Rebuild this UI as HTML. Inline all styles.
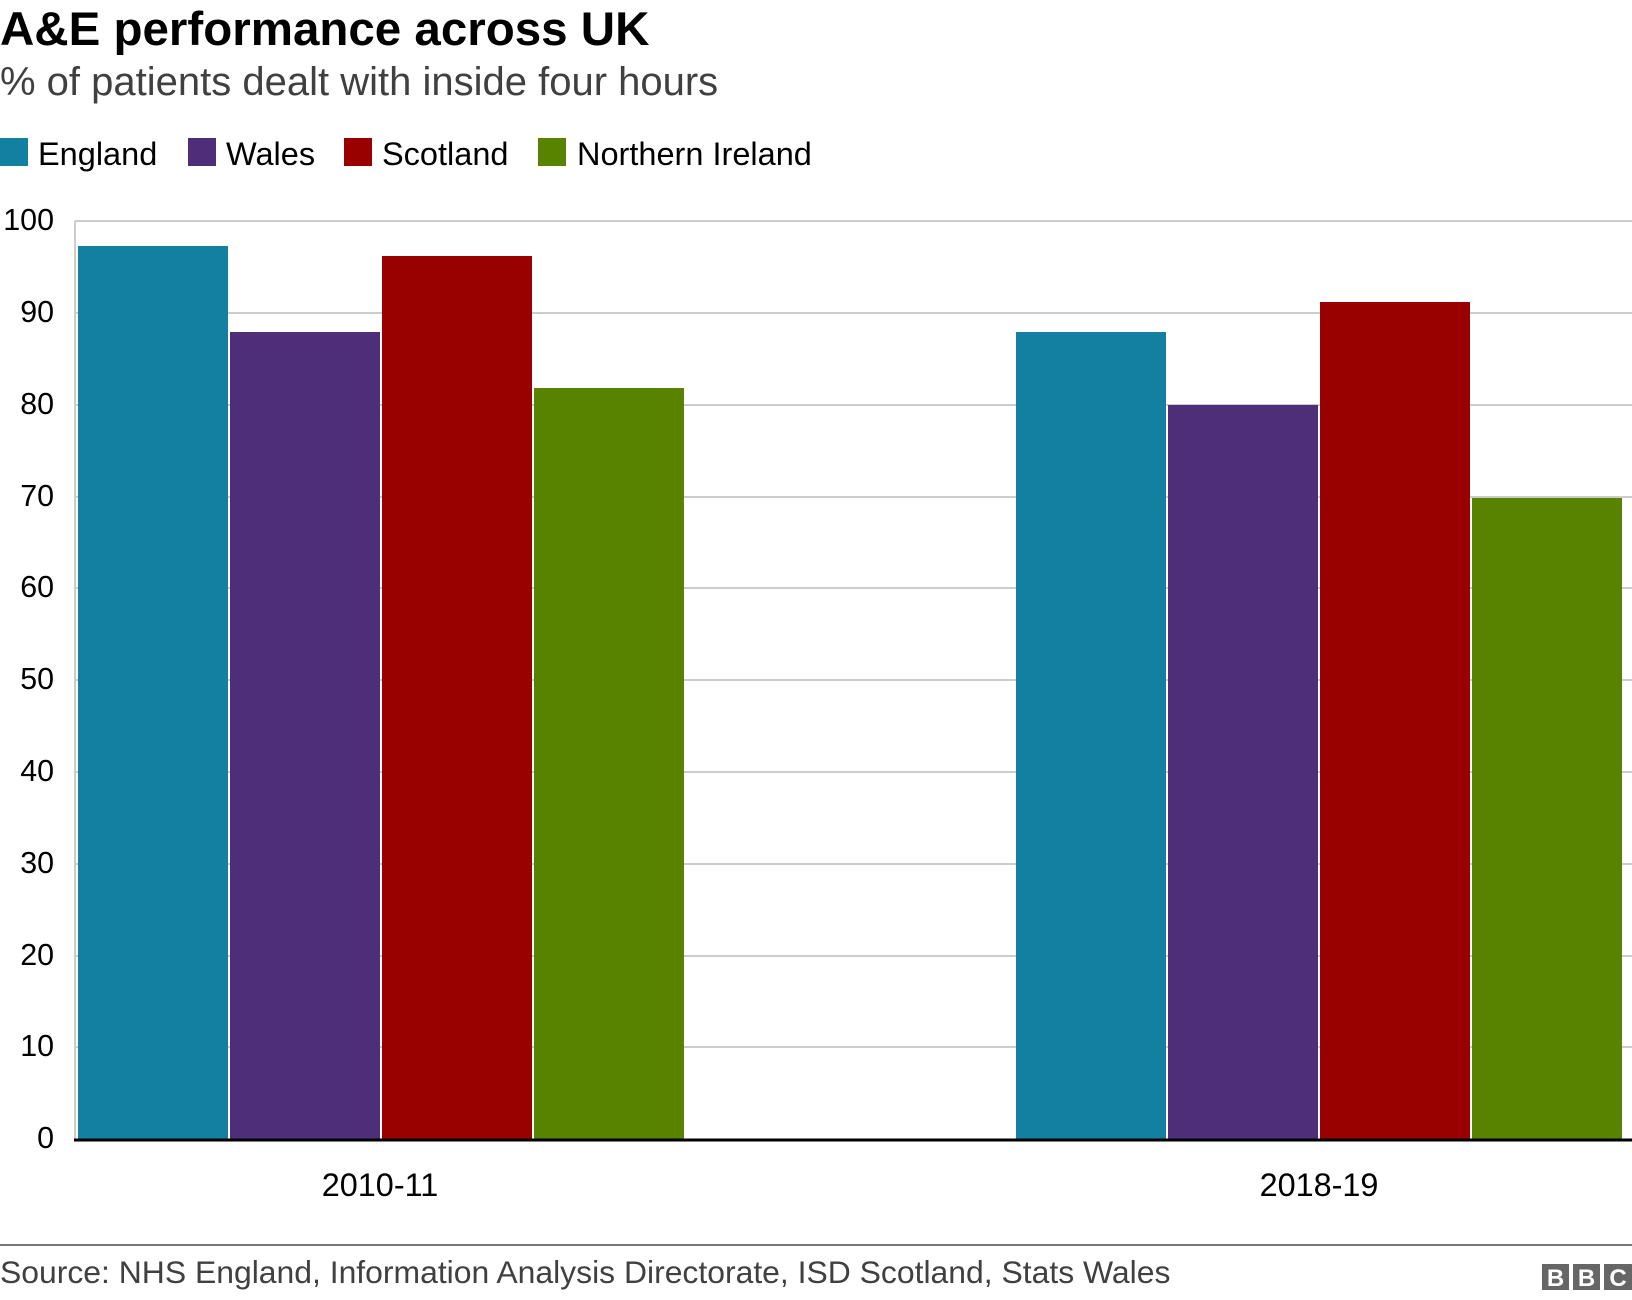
<!DOCTYPE html>
<html><head><meta charset="utf-8"><style>
html,body{margin:0;padding:0;background:#fff;}
svg{display:block;font-family:"Liberation Sans",Arial,sans-serif;}
</style></head><body>
<svg width="1632" height="1300" viewBox="0 0 1632 1300">
<text x="0" y="45" font-size="47.5" font-weight="bold" fill="#000">A&amp;E performance across UK</text>
<text x="0" y="95" font-size="40" fill="#404040">% of patients dealt with inside four hours</text>
<g font-size="32.5" fill="#000">
<rect x="0" y="138" width="28" height="28" fill="#1380a1"/><text x="38" y="165">England</text>
<rect x="188" y="138" width="28" height="28" fill="#4e2d79"/><text x="226" y="165">Wales</text>
<rect x="344" y="138" width="28" height="28" fill="#990000"/><text x="382" y="165">Scotland</text>
<rect x="538" y="138" width="28" height="28" fill="#588300"/><text x="577" y="165">Northern Ireland</text>
</g>
<g stroke="#cccccc" stroke-width="2">
<line x1="75" x2="1632" y1="221" y2="221"/>
<line x1="75" x2="1632" y1="313" y2="313"/>
<line x1="75" x2="1632" y1="405" y2="405"/>
<line x1="75" x2="1632" y1="497" y2="497"/>
<line x1="75" x2="1632" y1="588" y2="588"/>
<line x1="75" x2="1632" y1="680" y2="680"/>
<line x1="75" x2="1632" y1="772" y2="772"/>
<line x1="75" x2="1632" y1="864" y2="864"/>
<line x1="75" x2="1632" y1="956" y2="956"/>
<line x1="75" x2="1632" y1="1047" y2="1047"/>
<line x1="75" x2="75" y1="221" y2="1139"/>
</g>
<g font-size="30.4" fill="#000" text-anchor="end">
<text x="54" y="230">100</text><text x="54" y="322">90</text><text x="54" y="414">80</text>
<text x="54" y="506">70</text><text x="54" y="597">60</text><text x="54" y="689">50</text>
<text x="54" y="781">40</text><text x="54" y="873">30</text><text x="54" y="965">20</text>
<text x="54" y="1056">10</text><text x="54" y="1148">0</text>
</g>
<rect x="78" y="246" width="150" height="893" fill="#1380a1"/>
<rect x="230" y="332" width="150" height="807" fill="#4e2d79"/>
<rect x="382" y="256" width="150" height="883" fill="#990000"/>
<rect x="534" y="388" width="150" height="751" fill="#588300"/>
<rect x="1016" y="332" width="150" height="807" fill="#1380a1"/>
<rect x="1168" y="405" width="150" height="734" fill="#4e2d79"/>
<rect x="1320" y="302" width="150" height="837" fill="#990000"/>
<rect x="1472" y="498" width="150" height="641" fill="#588300"/>
<line x1="74" x2="1632" y1="1140" y2="1140" stroke="#000" stroke-width="3"/>
<g font-size="32.4" fill="#000" text-anchor="middle">
<text x="380" y="1196">2010-11</text><text x="1319" y="1196">2018-19</text>
</g>
<line x1="0" x2="1632" y1="1245" y2="1245" stroke="#777" stroke-width="2"/>
<text x="0" y="1283" font-size="31.9" fill="#404040">Source: NHS England, Information Analysis Directorate, ISD Scotland, Stats Wales</text>
<g font-size="24" font-weight="bold" fill="#fff" text-anchor="middle">
<rect x="1542" y="1264" width="27" height="26" fill="#666"/><text x="1555.5" y="1286">B</text>
<rect x="1573" y="1264" width="27" height="26" fill="#666"/><text x="1586.5" y="1286">B</text>
<rect x="1604" y="1264" width="28" height="26" fill="#666"/><text x="1618" y="1286">C</text>
</g>
</svg>
</body></html>
